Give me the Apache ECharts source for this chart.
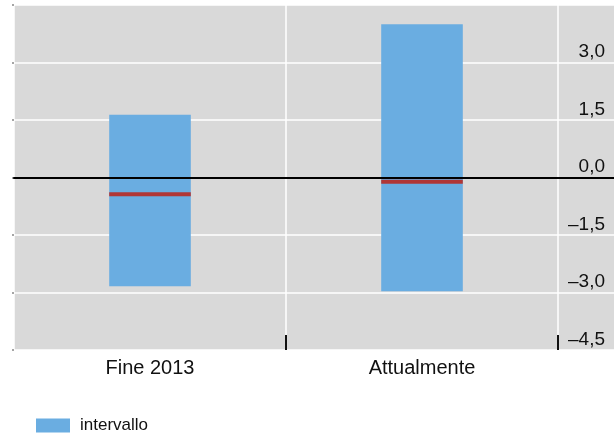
<!DOCTYPE html>
<html>
<head>
<meta charset="utf-8">
<script src="https://cdn.jsdelivr.net/npm/echarts@6/dist/echarts.min.js"></script>
<style>
  html, body { margin: 0; padding: 0; background: #fff; }
  #chart { width: 614px; height: 435px; }
</style>
</head>
<body>
<div id="chart"></div>
<script>
// Range per period: lower bound, upper bound and central value (percentage points)
const categories = ['Fine 2013', 'Attualmente'];
const lowValues = [-2.84, -2.97];
const highValues = [1.64, 4.0];
const medianValues = [-0.44, -0.11];
const seriesName = 'intervallo';

const FONT = 'Liberation Sans, Arial, sans-serif';
const TEXT = '#111';
const fmt = v => v.toFixed(1).replace('.', ',').replace('-', '\u2013');

const chart = echarts.init(document.getElementById('chart'), null, { renderer: 'canvas' });

const rangeData = categories.map((c, i) => [i, lowValues[i], highValues[i]]);
const medianData = categories.map((c, i) => [i, medianValues[i]]);

chart.setOption({
  animation: false,
  backgroundColor: '#fff',
  grid: [
    // full-width panel carrying the horizontal grid lines, labels and zero line
    { left: 14, right: 0, top: 5, bottom: 85, show: true, backgroundColor: '#d9d9d9', borderWidth: 0 },
    // category panel for the bars
    { left: 14, right: 56, top: 5, bottom: 85 },
    // second category band, used only for the separator ticks on its edges
    { left: 286, right: 56, top: 5, bottom: 85 }
  ],
  legend: {
    data: [seriesName],
    left: 36, top: 417, padding: 0,
    icon: 'rect',
    itemWidth: 34, itemHeight: 14, itemGap: 10,
    textStyle: { fontFamily: FONT, fontSize: 17, color: TEXT, padding: [0, 0, 0, 5] }
  },
  xAxis: [
    {
      gridIndex: 0, type: 'value', min: 0, max: 1, z: 10,
      axisLine: { show: true, onZero: true, lineStyle: { color: '#000', width: 2 } },
      axisTick: { show: false }, axisLabel: { show: false }, splitLine: { show: false }
    },
    {
      gridIndex: 1, type: 'category', data: categories,
      axisLine: { show: false, onZero: false },
      axisTick: { show: false },
      axisLabel: { fontFamily: FONT, fontSize: 20, color: TEXT, margin: 8 },
      splitLine: { show: true, lineStyle: { color: '#fff', width: 1.5 } }
    },
    {
      gridIndex: 2, type: 'value', min: 0, max: 1, interval: 1,
      axisLine: { show: false, onZero: false },
      axisTick: { show: true, inside: true, length: 15, lineStyle: { color: '#111', width: 2 } },
      axisLabel: { show: false }, splitLine: { show: false }
    }
  ],
  yAxis: [
    {
      gridIndex: 0, type: 'value', position: 'right',
      min: -4.5, max: 4.5, interval: 1.5,
      axisLine: { show: false }, axisTick: { show: false },
      splitLine: { show: true, lineStyle: { color: '#fff', width: 1.5 } },
      axisLabel: {
        inside: true, margin: 9, verticalAlign: 'bottom', padding: [0, 0, 1, 0],
        fontFamily: FONT, fontSize: 19, color: TEXT,
        showMaxLabel: false,
        formatter: v => (v >= 4.5 ? '' : fmt(v))
      }
    },
    {
      gridIndex: 1, type: 'value', position: 'left',
      min: -4.5, max: 4.5, interval: 1.5,
      axisLine: { show: false },
      axisTick: { show: true, length: 2, lineStyle: { color: '#888', width: 1.5 } },
      axisLabel: { show: false }, splitLine: { show: false }
    },
    {
      gridIndex: 2, type: 'value', min: -4.5, max: 4.5, show: false
    }
  ],
  series: [
    {
      name: seriesName,
      type: 'custom',
      xAxisIndex: 1, yAxisIndex: 1,
      itemStyle: { color: '#6aade1' },
      data: rangeData,
      renderItem: (params, api) => {
        const x = api.value(0);
        const top = api.coord([x, api.value(2)]);
        const bot = api.coord([x, api.value(1)]);
        const bw = api.size([1, 0])[0] * 0.3;
        return {
          type: 'rect',
          shape: { x: top[0] - bw / 2, y: top[1], width: bw, height: bot[1] - top[1] },
          style: { fill: '#6aade1' }
        };
      }
    },
    {
      name: 'mediana',
      type: 'custom',
      xAxisIndex: 1, yAxisIndex: 1,
      z: 3,
      data: medianData,
      renderItem: (params, api) => {
        const x = api.value(0);
        const p = api.coord([x, api.value(1)]);
        const bw = api.size([1, 0])[0] * 0.3;
        return {
          type: 'line',
          shape: { x1: p[0] - bw / 2, y1: p[1], x2: p[0] + bw / 2, y2: p[1] },
          style: { stroke: '#b03636', lineWidth: 4 }
        };
      }
    }
  ]
});
</script>
</body>
</html>
